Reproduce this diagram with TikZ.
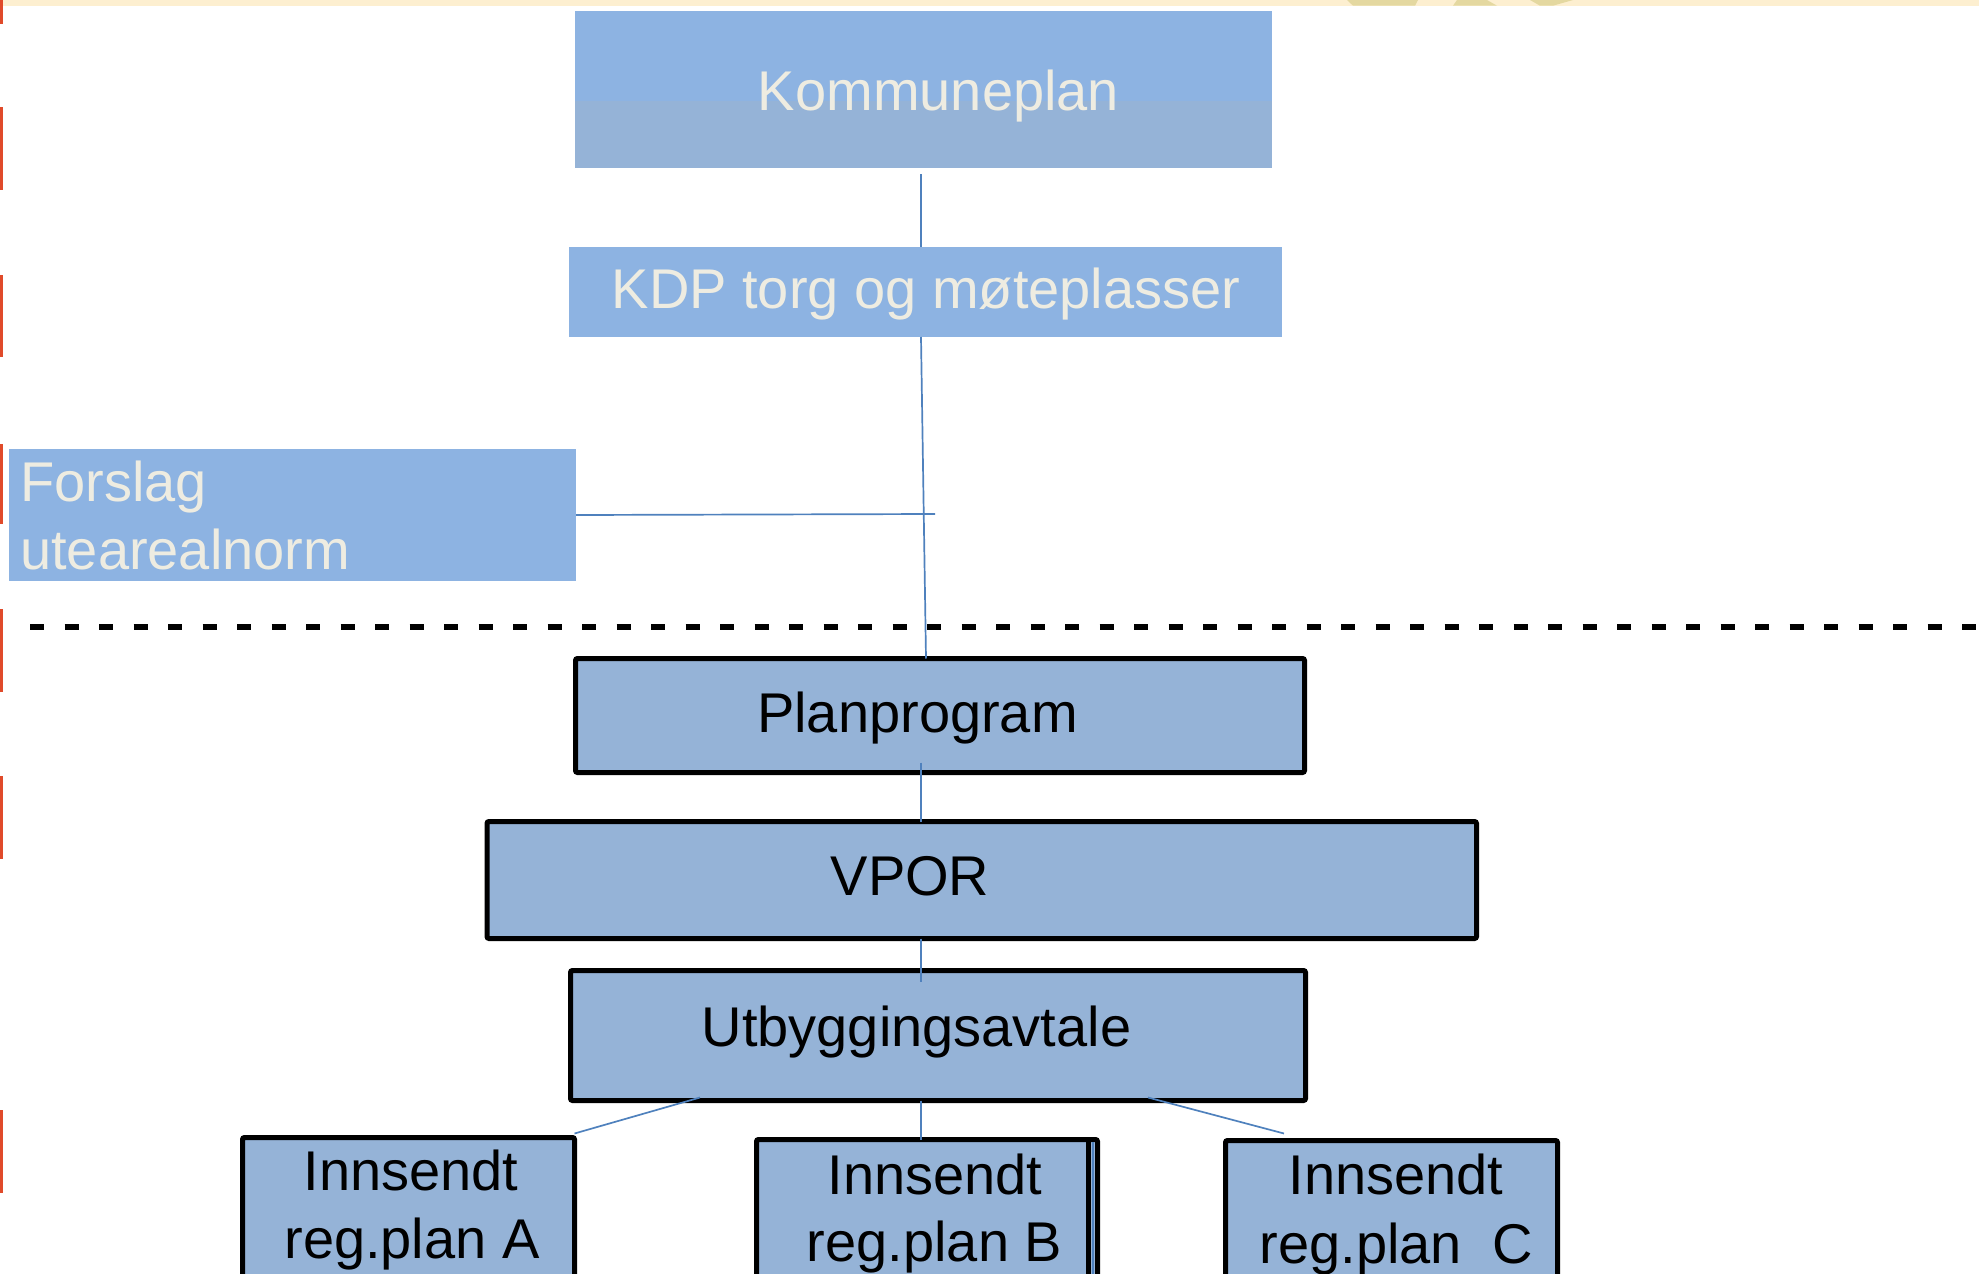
\documentclass[tikz,border=0pt]{standalone}
\usepackage{fontspec}
\setmainfont{Liberation Sans}
\usetikzlibrary{calc}
\definecolor{bandY}{HTML}{FDEFD0}
\definecolor{logoY}{HTML}{E4D8A0}
\definecolor{redm}{HTML}{E04A2A}
\definecolor{boxA}{HTML}{8DB3E2}
\definecolor{boxB}{HTML}{95B3D7}
\definecolor{cream}{HTML}{EEECE1}
\definecolor{conncol}{HTML}{4F81BD}
\tikzset{
  lbox/.style={rectangle, draw=black, line width=5pt, fill=boxB, rounded corners=2pt, inner sep=0pt, outer sep=0pt},
  ubox/.style={rectangle, fill=boxA, inner sep=0pt, outer sep=0pt},
  conn/.style={draw=conncol, line width=1.7pt},
  wtxt/.style={text=cream, font=\fontsize{56}{66}\selectfont, inner sep=0pt, anchor=base},
  btxt/.style={text=black, font=\fontsize{56}{66}\selectfont, inner sep=0pt, anchor=base},
}
\begin{document}
\begin{tikzpicture}[x=1pt,y=-1pt]
\useasboundingbox (0,0) rectangle (1979,1274);
\clip (0,0) rectangle (1979,1274);
% top band and logo fragment
\fill[bandY] (0,0) rectangle (1979,5.7);
\fill[logoY] (1347,0) -- (1418,0) -- (1415,5.7) -- (1353,5.7) -- cycle;
\fill[logoY] (1457,0) -- (1487,0) -- (1497,5.7) -- (1453,5.7) -- cycle;
\fill[logoY] (1530,0) -- (1573,0) -- (1553,5.7) -- (1540,5.7) -- cycle;
% red marks on left edge
\foreach \a/\b in {0/24,107/190,275/357,444/524,609/692,776/859,1110/1193}
  \fill[redm] (0,\a) rectangle (2.5,\b);
% dashed separator
\draw[black, line width=5.7pt, dash pattern=on 14pt off 20.5pt] (30,627) -- (1979,627);

% upper boxes
\node[ubox, fill=boxB, minimum width=697pt, minimum height=157pt] (kp) at (923.5,89.5) {};
\fill[boxA] (kp.north west) rectangle ([yshift=-90pt]kp.north east);
\node[wtxt] (kpt) at (938.5,110) {Kommuneplan};
\node[ubox, minimum width=713pt, minimum height=90pt] (kdp) at (925.5,292) {};
\node[wtxt] (kdpt) at (926,308) {KDP torg og møteplasser};
\node[ubox, minimum width=567pt, minimum height=132pt] (fo) at (292.5,515) {};
\node[wtxt, anchor=base west] (fot1) at (20,501) {Forslag};
\node[wtxt, anchor=base west] (fot2) at (20,569) {utearealnorm};

% lower boxes
\node[lbox, minimum width=729pt, minimum height=114pt] (pp) at (940,715.5) {};
\node[btxt] (ppt) at (917.5,732) {Planprogram};
\node[lbox, minimum width=989.5pt, minimum height=117pt] (vp) at (981.75,880) {};
\node[btxt] (vpt) at (910,895) {VPOR};
\node[lbox, minimum width=735pt, minimum height=130pt] (ub) at (938,1035.5) {};
\node[btxt] (ubt) at (916.5,1046) {Utbyggingsavtale};
\node[lbox, minimum width=332pt, minimum height=162.5pt] (A) at (408.5,1218.75) {};
\node[btxt] (At1) at (411,1190) {Innsendt};
\node[btxt] (At2) at (412,1258) {reg.plan A};
\node[lbox, minimum width=341pt, minimum height=160.5pt] (B) at (927,1219.75) {};
\draw[black, line width=5pt] ($(B.north east)+(-9,0)$) -- ($(B.south east)+(-9,0)$);
\draw[conncol, line width=2pt] ($(B.north east)+(-4.5,2.5)$) -- ($(B.south east)+(-4.5,0)$);
\node[btxt] (Bt1) at (935,1194) {Innsendt};
\node[btxt] (Bt2) at (934.5,1261) {reg.plan B};
\node[lbox, minimum width=332pt, minimum height=159.5pt] (C) at (1391.5,1220.25) {};
\node[btxt] (Ct1) at (1396,1194) {Innsendt};
\node[btxt] (Ct2) at (1396.5,1263) {reg.plan\ \ C};

% connectors
\coordinate (xa) at (921,0);
\coordinate (xb) at (926,0);
\coordinate (xA) at (700,0);
\coordinate (xC1) at (1148,0);
\coordinate (xC2) at (1284,0);
\coordinate (fe) at (935,514);
\draw[conn] ($(kp.south -| xa)+(0,6)$) -- (kdp.north -| xa);
\draw[conn] (kdp.south -| xa) -- (pp.north -| xb);
\draw[conn] (fo.east) -- (fe);
\draw[conn] ($(pp.south -| xa)+(0,-10)$) -- (vp.north -| xa);
\draw[conn] (vp.south -| xa) -- ($(ub.north -| xa)+(0,11)$);
\draw[conn] ($(ub.south -| xA)+(0,-3)$) -- ($(A.north east)+(0,-4)$);
\draw[conn] (ub.south -| xa) -- (B.north -| xa);
\draw[conn] ($(ub.south -| xC1)+(0,-3)$) -- ($(C.north -| xC2)+(0,-7)$);
\end{tikzpicture}
\end{document}
